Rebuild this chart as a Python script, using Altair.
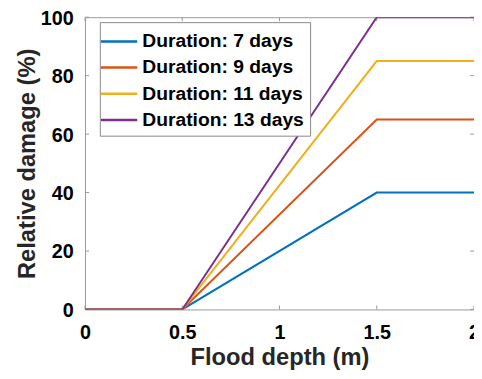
import altair as alt
import pandas as pd

depth = [0, 0.5, 1.5, 2]
series_names = ["Duration: 7 days", "Duration: 9 days", "Duration: 11 days", "Duration: 13 days"]
damage_7 = [0, 0, 40, 40]
damage_9 = [0, 0, 65, 65]
damage_11 = [0, 0, 85, 85]
damage_13 = [0, 0, 100, 100]
colors = ["#0072BD", "#D95319", "#EDB120", "#7E2F8E"]
x_ticks = [0, 0.5, 1, 1.5, 2]
y_ticks = [0, 20, 40, 60, 80, 100]

rows = []
for name, vals in zip(series_names, [damage_7, damage_9, damage_11, damage_13]):
    for d, v in zip(depth, vals):
        rows.append({"depth": d, "damage": v, "series": name})
df = pd.DataFrame(rows)

W, H = 394, 296
FONT = "Liberation Sans"

xscale = alt.Scale(domain=[0, 2], nice=False)
yscale = alt.Scale(domain=[0, 100], nice=False)

lines = alt.Chart(df).mark_line(strokeWidth=2, clip=True).encode(
    x=alt.X("depth:Q", scale=xscale,
            axis=alt.Axis(title="Flood depth (m)", values=x_ticks, format="~g",
                          grid=False, ticks=False, domain=False,
                          labelFont=FONT, labelFontWeight="bold", labelFontSize=20,
                          labelColor="#000000", labelPadding=13, labelFlush=False,
                          titleFont=FONT, titleFontWeight="bold", titleFontSize=24,
                          titleColor="#262626", titlePadding=4)),
    y=alt.Y("damage:Q", scale=yscale,
            axis=alt.Axis(title="Relative damage (%)", values=y_ticks,
                          grid=False, ticks=False, domain=False,
                          labelFont=FONT, labelFontWeight="bold", labelFontSize=20,
                          labelColor="#000000", labelPadding=12, labelFlush=False,
                          labelOffset=1,
                          titleFont=FONT, titleFontWeight="bold", titleFontSize=24,
                          titleColor="#262626", titlePadding=1)),
    color=alt.Color("series:N", scale=alt.Scale(domain=series_names, range=colors),
                    legend=alt.Legend(title=None, orient="none", legendX=15, legendY=5,
                                      symbolType="M-1.5,0H1.5", symbolSize=600, symbolStrokeWidth=2.5,
                                      labelFont=FONT, labelFontWeight="bold", labelFontSize=19.5,
                                      labelColor="#000000", labelOffset=10, labelLimit=400,
                                      rowPadding=3.5, padding=6,
                                      fillColor="white", strokeColor="#888888")),
)

xt = pd.DataFrame({"t": x_ticks})
yt = pd.DataFrame({"t": y_ticks})
tick_color = "#999999"
xb = alt.Chart(xt).mark_rule(color=tick_color).encode(x=alt.X("t:Q", scale=xscale), y=alt.value(H), y2=alt.value(H - 4))
xtop = alt.Chart(xt).mark_rule(color=tick_color).encode(x=alt.X("t:Q", scale=xscale), y=alt.value(0), y2=alt.value(4))
yl = alt.Chart(yt).mark_rule(color=tick_color).encode(y=alt.Y("t:Q", scale=yscale), x=alt.value(0), x2=alt.value(4))
yr = alt.Chart(yt).mark_rule(color=tick_color).encode(y=alt.Y("t:Q", scale=yscale), x=alt.value(W), x2=alt.value(W - 4))

chart = alt.layer(xb, xtop, yl, yr, lines).properties(
    width=W, height=H,
    autosize=alt.AutoSizeParams(type="none"),
    padding={"left": 78, "top": 7, "right": 0, "bottom": 60},
    background="white",
).configure_view(stroke="#999999", strokeWidth=1)

chart.save("out.html", embed_options={"renderer": "svg", "actions": False})
